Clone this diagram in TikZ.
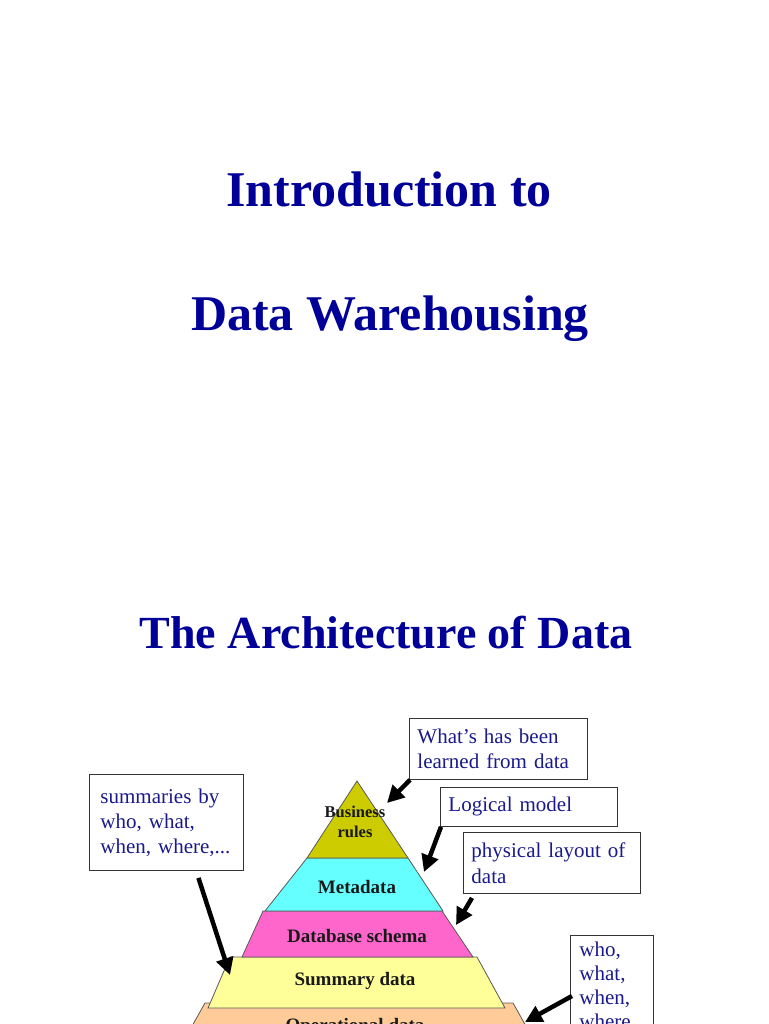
\documentclass[tikz,border=0pt]{standalone}
\usepackage{fontspec}
\setmainfont{Liberation Serif}
\usetikzlibrary{arrows.meta, calc}
\definecolor{titleblue}{RGB}{0,0,153}
\definecolor{noteblue}{RGB}{26,26,140}
\definecolor{bizolive}{RGB}{204,204,0}
\definecolor{metacyan}{RGB}{102,255,255}
\definecolor{schemapink}{RGB}{255,102,204}
\definecolor{sumyellow}{RGB}{255,255,153}
\definecolor{oppeach}{RGB}{255,204,153}

\begin{document}
\begin{tikzpicture}[x=1pt, y=-1pt,
        title/.style={font=\fontsize{50}{60}\selectfont\bfseries, text=titleblue, anchor=base, inner sep=0pt},
        layer/.style={draw=black!65, line width=0.8pt},
        tier/.style={font=\fontsize{19}{22}\selectfont\bfseries, text=black!90, anchor=base, inner sep=0pt},
        note/.style={draw=black!80, line width=0.9pt, fill=white, font=\fontsize{21}{25.5}\selectfont, text=noteblue, align=left, anchor=north west, inner xsep=8pt, inner ysep=0pt},
        arrow/.style={-{Triangle[length=17pt, width=17pt]}, line width=4.5pt, draw=black}
    ]
        \useasboundingbox[fill=white] (0,0) rectangle (768,1024);

        % titles
        \node[title] (intro) at (389,207) {Introduction to};
        \node[title] (dwh) at (390,330) {Data Warehousing};
        \node[title, font=\fontsize{46}{55}\selectfont\bfseries] (arch) at (386,648) {The Architecture of Data};

        % pyramid, bottom layer first
        \filldraw[fill=oppeach, layer] (205,1003) -- (513,1003) -- (545,1060) -- (173,1060) -- cycle;
        \filldraw[fill=sumyellow, layer] (230,957) -- (477,957) -- (505,1008) -- (208,1008) -- cycle;
        \filldraw[fill=schemapink, layer] (263,911) -- (442,911) -- (473,957) -- (242,957) -- cycle;
        \filldraw[fill=metacyan, layer] (307,858) -- (408,858) -- (443,911) -- (265,911) -- cycle;
        \filldraw[fill=bizolive, layer] (357,781) -- (408,858) -- (307,858) -- cycle;

        \node[tier, font=\fontsize{16.5}{20}\selectfont\bfseries, align=center, anchor=center] (bizlabel) at (355,822) {Business\\rules};
        \node[tier] (metalabel) at (357,893) {Metadata};
        \node[tier] (schemalabel) at (357,942) {Database schema};
        \node[tier] (sumlabel) at (355,985) {Summary data};
        \node[tier] (oplabel) at (355,1031) {Operational data};

        % callouts
        \node[note, text width=162pt, minimum height=61pt] (learned) at (409,718) {What’s has been\\learned from data};
        \node[note, text width=161pt, minimum height=39pt] (logical) at (440,787) {Logical model};
        \node[note, text width=161pt, minimum height=61pt] (physical) at (463,832) {physical layout of\\data};
        \node[note, text width=132pt, inner xsep=11pt, minimum height=96pt, font=\fontsize{21}{25}\selectfont] (summaries) at (89,774) {summaries by\\who, what,\\when, where,...};
        \node[note, text width=65pt, inner xsep=9pt, inner ysep=6pt, font=\fontsize{21}{24}\selectfont] (whobox) at (570,935) {who,\\what,\\when,\\where,...};

        \coordinate (bizTip) at (387,803);
        \coordinate (metaTip) at (424,872);
        \coordinate (schemaTip) at (456,925);
        \coordinate (sumTip) at (230,975);
        \coordinate (opTip) at (525,1022);

        \draw[arrow] ([xshift=1pt]learned.south west) -- (bizTip);
        \draw[arrow] ([xshift=1pt]logical.south west) -- (metaTip);
        \draw[arrow] ([xshift=9pt,yshift=-4pt]physical.south west) -- (schemaTip);
        \draw[arrow] ([xshift=32pt,yshift=-7pt]summaries.south) -- (sumTip);
        \draw[arrow] ($(whobox.north west)+(2,61)$) -- (opTip);
    \end{tikzpicture}
\end{document}
